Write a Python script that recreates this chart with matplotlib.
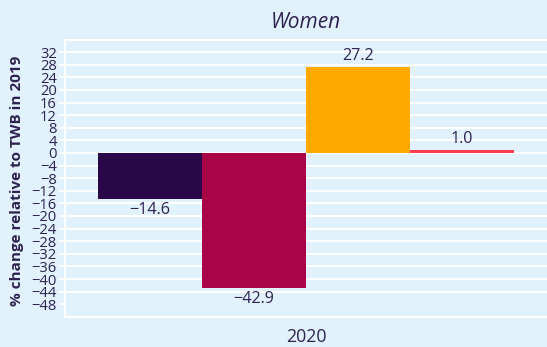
import matplotlib.pyplot as plt

# data
year = "2020"
groups = ["g1", "g2", "g3", "g4"]
values = [-14.6, -42.9, 27.2, 1.0]
labels = ["\u221214.6", "\u221242.9", "27.2", "1.0"]
bar_colors = ["#2a0748", "#a80446", "#ffa800", "#ff3e4d"]
yticks = list(range(-48, 33, 4))

bg = "#e1f2fd"
txt = "#2d2150"

plt.rcParams['font.family'] = ['Open Sans', 'DejaVu Sans']

fig = plt.figure(figsize=(5.47, 3.47), dpi=100, facecolor=bg)
ax = fig.add_axes([0.1188, 0.087, 0.8812, 0.799], facecolor=bg)

# grouped bars around a single category
width = 0.2158
offsets = [-1.5 * width, -0.5 * width, 0.5 * width, 1.5 * width]
for off, v, c, lab in zip(offsets, values, bar_colors, labels):
    ax.bar(off, v, width=width, color=c, zorder=3)
    if v < 0:
        ax.text(off, v - 1.0, lab, ha='center', va='top', fontsize=11.6, color=txt, zorder=4)
    else:
        ax.text(off, v + 0.9, lab, ha='center', va='bottom', fontsize=11.6, color=txt, zorder=4)

ax.set_xlim(-0.5, 0.5)
ax.set_ylim(-52, 36)
ax.set_xticks([0])
ax.set_xticklabels([year], fontsize=12.8, color=txt)
ax.tick_params(axis='x', length=0, pad=8)

ax.set_yticks(yticks)
ax.set_yticklabels([str(t).replace('-', '\u2212') for t in yticks], fontsize=10.6, color=txt)
ax.tick_params(axis='y', length=4.5, width=1.5, color='white', pad=1.5)

# white grid every 4, the -48 line is not drawn in the original
for t in range(-44, 37, 4):
    ax.axhline(t, color='white', lw=1.5, zorder=1)

for s in ['left', 'top', 'bottom']:
    ax.spines[s].set_color('white')
    ax.spines[s].set_linewidth(1.5)
ax.spines['right'].set_visible(False)

ax.set_ylabel("% change relative to TWB in 2019", fontsize=11, fontweight='bold',
              color=txt)
ax.yaxis.set_label_coords(-0.085, 0.49)

ax.set_title("Women", fontsize=15, style='italic', color=txt, pad=8)

fig.savefig("out.png", dpi=100, facecolor=bg)
